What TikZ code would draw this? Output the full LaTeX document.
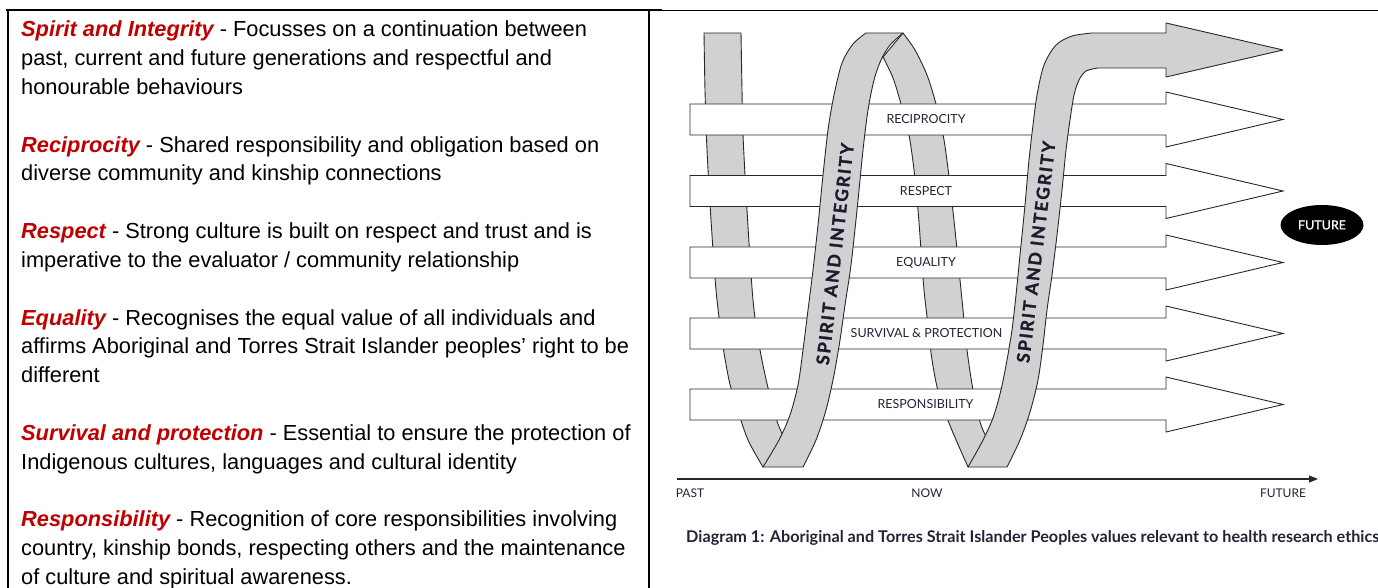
\documentclass[tikz,border=0pt]{standalone}
\usepackage{fontspec}
\setmainfont{Liberation Sans}
\newfontfamily\lato{Lato}
\usetikzlibrary{arrows.meta,shapes.geometric}
\definecolor{ribbon}{RGB}{208,209,211}
\definecolor{edgec}{RGB}{40,40,40}
\definecolor{navy}{RGB}{35,35,55}
\definecolor{dred}{RGB}{192,0,0}
\newcommand\keyterm[1]{{\color{dred}\bfseries\itshape #1}}
\tikzset{
  strand/.style={fill=ribbon, draw=edgec, line width=0.9pt, line join=round},
  bararrow/.style={fill=white, draw=edgec, line width=0.9pt, line join=miter},
  barlabel/.style={font=\lato\fontsize{12.5}{14}\selectfont, text=navy, inner sep=0pt},
  body/.style={font=\fontsize{21.8}{28.8}\selectfont, anchor=base west, inner sep=0pt},
  spiral/.style={font=\lato\bfseries\fontsize{17.5}{19}\selectfont\addfontfeatures{LetterSpace=11,FakeBold=1.5}, text=navy!80!black, inner sep=0pt},
  axislabel/.style={font=\lato\fontsize{12}{14}\selectfont, text=navy, inner sep=0pt},
  border/.style={draw=black, line width=2pt},
}
\begin{document}
\begin{tikzpicture}[x=1pt,y=-1pt]
\useasboundingbox (0,0) rectangle (1378,588);
% table borders
\draw[border] (6,10.5) -- (662,10.5);
\draw[draw=black, line width=1.3pt] (662,10.5) -- (1378,10.5);
\draw[border] (7.5,9.5) -- (7.5,588);
\draw[border] (649,9.5) -- (649,588);
% left text
\node[body] (l1) at (21,37) {\keyterm{Spirit and Integrity} - Focusses on a continuation between};
\node[body] (l2) at (21,65.8) {past, current and future generations and respectful and};
\node[body] (l3) at (21,94.6) {honourable behaviours};
\node[body] (l5) at (21,152.2) {\keyterm{Reciprocity} - Shared responsibility and obligation based on};
\node[body] (l6) at (21,181) {diverse community and kinship connections};
\node[body] (l8) at (21,238.6) {\keyterm{Respect} - Strong culture is built on respect and trust and is};
\node[body] (l9) at (21,267.4) {imperative to the evaluator / community relationship};
\node[body] (l11) at (21,325) {\keyterm{Equality} - Recognises the equal value of all individuals and};
\node[body] (l12) at (21,353.8) {affirms Aboriginal and Torres Strait Islander peoples’ right to be};
\node[body] (l13) at (21,382.6) {different};
\node[body] (l15) at (21,440.2) {\keyterm{Survival and protection} - Essential to ensure the protection of};
\node[body] (l16) at (21,469) {Indigenous cultures, languages and cultural identity};
\node[body] (l18) at (21,526.6) {\keyterm{Responsibility} - Recognition of core responsibilities involving};
\node[body] (l19) at (21,555.4) {country, kinship bonds, respecting others and the maintenance};
\node[body] (l20) at (21,584.2) {of culture and spiritual awareness.};
% ---- diagram ----
% left descending strand (behind)
\path[strand] (704,33) -- (741,33) -- plot[smooth] coordinates {(741,33) (742,90) (743,135) (747,210) (753,300) (760,350) (769,392) (778,424) (790,450)} -- plot[smooth] coordinates {(763,467) (748,440) (737,408) (729,380) (722,340) (716,290) (711,220) (707,150) (705,90) (704,33)} -- cycle;
% back strand of first arch
\path[strand] plot[smooth] coordinates {(883,57) (893,78) (901,104) (909,135) (914,170) (918,210) (921,250) (924,290) (928,325) (932,360) (939,395) (951,428) (968,467)} -- plot[smooth] coordinates {(995,455) (981,425) (973,390) (967,350) (963,310) (959,270) (955,230) (950,185) (944,140) (936,104) (927,75) (915,50) (903,33)} -- cycle;
% white value arrows
\foreach \t in {104,175.5,247,318,389}{
  \path[bararrow] (690,\t) -- (1166,\t) -- (1166,\t-12) -- (1283,\t+15.5) -- (1166,\t+43) -- (1166,\t+31) -- (690,\t+31) -- cycle;
}
\node[barlabel] (rec) at (926,119.5) {RECIPROCITY};
\node[barlabel] (res) at (926,191) {RESPECT};
\node[barlabel] (equ) at (926,262.5) {EQUALITY};
\node[barlabel] (sur) at (926.5,333.5) {SURVIVAL \& PROTECTION};
\node[barlabel] (rsp) at (925.5,404.5) {RESPONSIBILITY};
% first front strand
\path[strand] plot[smooth] coordinates {(763,467) (779,440) (790,415) (798,385) (803,350) (808,310) (813,270) (818,225) (823,175) (828,130) (834,95) (842,63) (853,44) (866,33)} -- (903,33) -- plot[smooth] coordinates {(903,33) (890,45) (881,60) (874,80) (868,110) (863,150) (857,210) (851,265) (845,305) (840,340) (834,375) (826,410) (816,440) (803,467)} -- cycle;
% second front strand turning into the grey arrow
\path[strand] plot[smooth] coordinates {(968,467) (982,442) (993,418) (1001,390) (1007,360) (1012,330) (1016,295) (1020,255) (1025,205) (1029,160) (1033,125) (1037,95) (1044,65) (1056,45) (1072,36) (1092,33)} -- (1166,33) -- (1166,23) -- (1283,50) -- (1166,77) -- (1166,68) -- plot[smooth] coordinates {(1098,68) (1086,71) (1079,80) (1074,95) (1070,120) (1066,150) (1062,190) (1057,235) (1052,275) (1047,310) (1043,345) (1038,380) (1030,412) (1020,440) (1007,467)} -- cycle;
\node[spiral, rotate=83.5] (sp1) at (835,254) {SPIRIT AND INTEGRITY};
\node[spiral, rotate=83.2] (sp2) at (1036,252) {SPIRIT AND INTEGRITY};
% future ellipse
\node[ellipse, fill=black, minimum width=83pt, minimum height=40pt, inner sep=0pt, text=white, font=\lato\fontsize{12.5}{14}\selectfont\addfontfeatures{FakeBold=1}] (fut) at (1322,225) {FUTURE};
% time axis
\coordinate (axL) at (677,479);
\coordinate (axR) at (1318,479);
\draw[draw=edgec, line width=1.1pt, -{Triangle[length=9pt,width=7pt]}] (axL) -- (axR);
\node[axislabel] (past) at (690,493) {PAST};
\node[axislabel] (now) at (927,493) {NOW};
\node[axislabel] (futl) at (1283,493) {FUTURE};
% caption
\node[anchor=base west, inner sep=0pt, text=navy, font=\lato\bfseries\fontsize{16.2}{18}\selectfont] (cap) at (686,542) {Diagram 1: Aboriginal and Torres Strait Islander Peoples values relevant to health research ethics};
\end{tikzpicture}
\end{document}
